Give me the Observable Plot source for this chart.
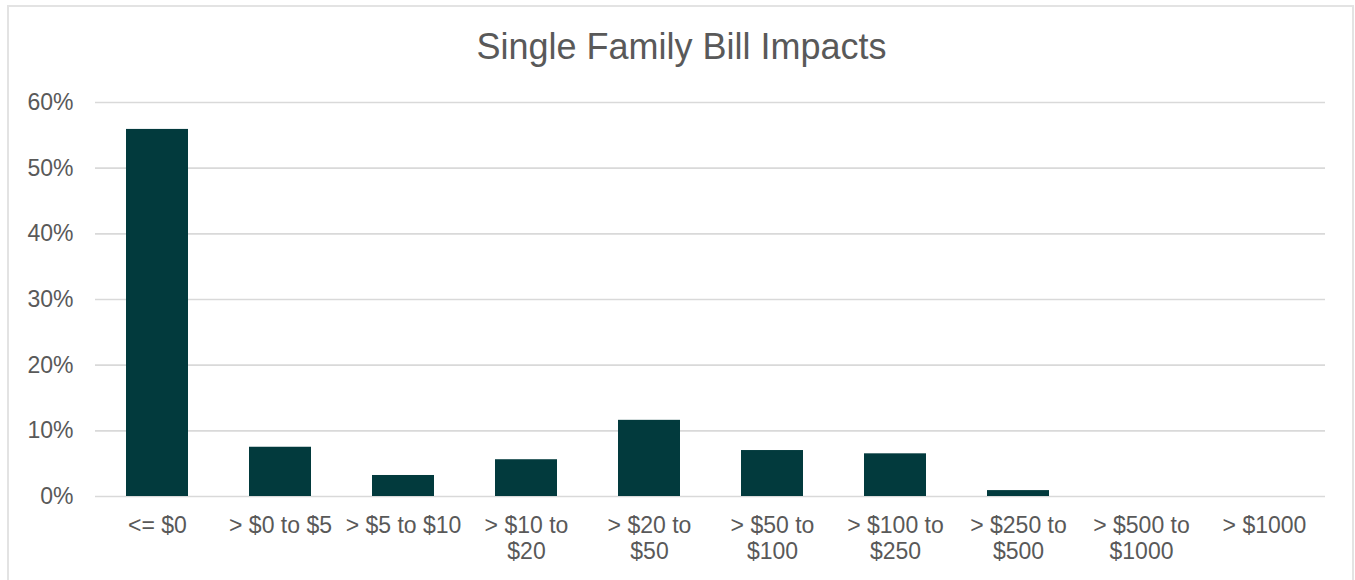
<!DOCTYPE html>
<html>
<head>
<meta charset="utf-8">
<script src="https://cdn.jsdelivr.net/npm/d3@7"></script>
<script src="https://cdn.jsdelivr.net/npm/@observablehq/plot@0.6"></script>
<style>
  html, body { margin: 0; padding: 0; background: #fff; }
  #wrap { position: relative; width: 1355px; height: 580px; overflow: hidden; font-family: "Liberation Sans", Arial, sans-serif; }
  #frame { position: absolute; left: 7px; top: 5px; width: 1347px; height: 590px; border: 2px solid #e3e3e3; box-sizing: border-box; }
  #title { position: absolute; left: 0; top: 25px; width: 1363px; text-align: center; font-size: 36px; color: #595959; line-height: 44px; }
  #chart { position: absolute; left: 0; top: 80px; }
</style>
</head>
<body>
<div id="wrap">
  <div id="frame"></div>
  <div id="title">Single Family Bill Impacts</div>
  <div id="chart"></div>
</div>
<script>
const categories = ["<= $0", "> $0 to $5", "> $5 to $10", "> $10 to $20", "> $20 to $50", "> $50 to $100", "> $100 to $250", "> $250 to $500", "> $500 to $1000", "> $1000"];
const tickLabels = ["<= $0", "> $0 to $5", "> $5 to $10", "> $10 to\n$20", "> $20 to\n$50", "> $50 to\n$100", "> $100 to\n$250", "> $250 to\n$500", "> $500 to\n$1000", "> $1000"];
const shares = [0.559, 0.075, 0.032, 0.056, 0.116, 0.070, 0.065, 0.009, 0, 0];
const yTicks = [0, 0.1, 0.2, 0.3, 0.4, 0.5, 0.6];

const data = categories.map((c, i) => ({category: c, share: shares[i]}));
const labelOf = new Map(categories.map((c, i) => [c, tickLabels[i]]));

const chart = Plot.plot({
  width: 1355,
  height: 495,
  marginLeft: 95,
  marginRight: 30,
  marginTop: 22,
  marginBottom: 79,
  style: {fontFamily: "'Liberation Sans', Arial, sans-serif", color: "#595959", background: "transparent"},
  x: {domain: categories, paddingInner: 0.5, paddingOuter: 0.25, align: 0.5},
  y: {domain: [0, 0.6]},
  marks: [
    Plot.ruleY(yTicks, {stroke: "#d9d9d9", strokeWidth: 1.6}),
    Plot.barY(data, {x: "category", y: "share", fill: "#023a3d"}),
    Plot.axisY({ticks: yTicks, tickFormat: d3.format(".0%"), tickSize: 0, tickPadding: 22, fontSize: 23, fill: "#595959", label: null}),
    Plot.axisX({tickFormat: d => labelOf.get(d), tickSize: 0, tickPadding: 18, fontSize: 23, lineHeight: 1.13, fill: "#595959", label: null})
  ]
});
document.getElementById("chart").appendChild(chart);
</script>
</body>
</html>
